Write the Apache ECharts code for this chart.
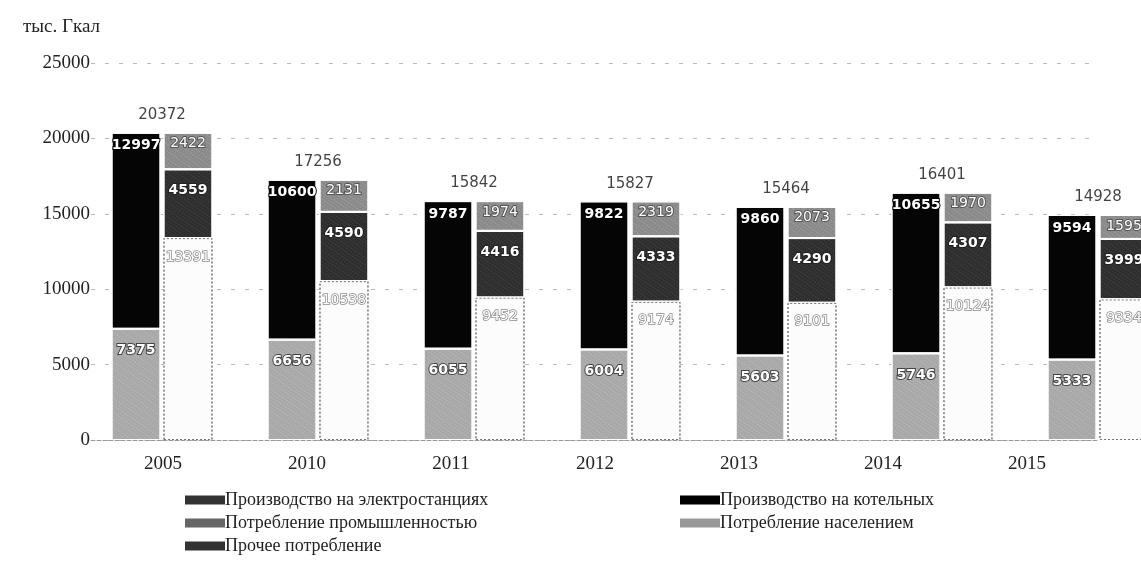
<!DOCTYPE html>
<html>
<head>
<meta charset="utf-8">
<script src="https://cdn.jsdelivr.net/npm/echarts@6/dist/echarts.min.js"></script>
<style>
  html, body { margin: 0; padding: 0; background: #fff; }
  #main { width: 1141px; height: 561px; }
</style>
</head>
<body>
<div id="main"></div>
<script>
// --- data ---
const years = ['2005', '2010', '2011', '2012', '2013', '2014', '2015'];
const powerStations = [7375, 6656, 6055, 6004, 5603, 5746, 5333];
const boilers = [12997, 10600, 9787, 9822, 9860, 10655, 9594];
const population = [13391, 10538, 9452, 9174, 9101, 10124, 9334];
const industry = [4559, 4590, 4416, 4333, 4290, 4307, 3999];
const otherUse = [2422, 2131, 1974, 2319, 2073, 1970, 1595];
const totals = [20372, 17256, 15842, 15827, 15464, 16401, 14928];
const yTicks = [0, 5000, 10000, 15000, 20000, 25000];

const SERIF = '"Liberation Serif", "DejaVu Serif", serif';
const SANS = '"DejaVu Sans", sans-serif';

const chart = echarts.init(document.getElementById('main'));

// speckle-like texture for the scanned fills
const speckle = (c) => ({
    symbol: 'rect',
    symbolSize: 0.5,
    dashArrayX: [[1, 2], [2, 1]],
    dashArrayY: [1, 2],
    rotation: 0.6,
    color: c,
    backgroundColor: null
});

const segLabel = (dist, stroke) => ({
    show: true,
    position: 'insideTop',
    distance: dist,
    color: '#fff',
    fontFamily: SANS,
    fontWeight: 'bold',
    fontSize: 14,
    textBorderColor: stroke,
    textBorderWidth: 2
});

const bar = (name, data, stack, label, itemStyle) => ({
    name: name,
    type: 'bar',
    stack: stack,
    data: data,
    barWidth: 49,
    barGap: '6%',
    xAxisIndex: 0,
    yAxisIndex: 0,
    itemStyle: itemStyle,
    label: label
});

const legendText = { fontFamily: SERIF, fontSize: 18, lineHeight: 20, color: '#222', padding: [0, 0, 0, -5] };

const option = {
    animation: false,
    aria: { enabled: true, decal: { show: true } },
    title: {
        text: 'тыс. Гкал',
        left: 18,
        top: 13,
        textStyle: { fontFamily: SERIF, fontSize: 19, fontWeight: 'normal', color: '#222' }
    },
    grid: [
        { left: 84, width: 1092, top: 63, bottom: 121, outerBoundsMode: 'none' },
        { left: 91, width: 1008, top: 63, bottom: 121, outerBoundsMode: 'none' }
    ],
    xAxis: [
        { gridIndex: 0, type: 'category', data: years, show: false },
        {
            gridIndex: 1, type: 'category', data: years,
            axisLine: { show: true, lineStyle: { color: '#999', type: 'dashed' } },
            axisTick: { show: false },
            axisLabel: { fontFamily: SERIF, fontSize: 19, color: '#222', margin: 15 }
        }
    ],
    yAxis: [
        { gridIndex: 0, type: 'value', min: 0, max: 25000, interval: 5000, show: false },
        {
            gridIndex: 1, type: 'value', min: yTicks[0], max: yTicks[yTicks.length - 1], interval: 5000,
            axisLine: { show: false },
            axisTick: { show: false },
            axisLabel: {
                fontFamily: SERIF, fontSize: 19, color: '#222', margin: 1,
                formatter: (v) => String(v)
            },
            splitLine: { lineStyle: { color: '#bbb', type: [4, 10], width: 1 } }
        }
    ],
    legend: [
        {
            orient: 'vertical', left: 185, top: 490, padding: 0, height: 70,
            itemWidth: 40, itemHeight: 9, itemGap: 3,
            icon: 'rect',
            textStyle: legendText,
            data: [
                { name: 'Производство на электростанциях', itemStyle: { color: '#333', borderWidth: 0, decal: 'none' } },
                { name: 'Потребление промышленностью', itemStyle: { color: '#666', borderWidth: 0, decal: 'none' } },
                { name: 'Прочее потребление', itemStyle: { color: '#333', borderWidth: 0, decal: 'none' } }
            ]
        },
        {
            orient: 'vertical', left: 680, top: 490, padding: 0, height: 70,
            itemWidth: 40, itemHeight: 9, itemGap: 3,
            icon: 'rect',
            textStyle: legendText,
            data: [
                { name: 'Производство на котельных', itemStyle: { color: '#000', borderWidth: 0, decal: 'none' } },
                { name: 'Потребление населением', itemStyle: { color: '#999', borderWidth: 0, decal: 'none' } }
            ]
        }
    ],
    series: [
        bar('Производство на электростанциях', powerStations, 'prod', segLabel(15, '#444'),
            { color: '#a8a8a8', borderColor: '#fff', borderWidth: 1, decal: speckle('rgba(255,255,255,0.75)') }),
        bar('Производство на котельных', boilers, 'prod', segLabel(6, '#000'),
            { color: '#050505', borderColor: '#fff', borderWidth: 1, decal: { symbol: 'none' } }),
        bar('Потребление населением', population, 'cons',
            Object.assign(segLabel(12, '#888'), { textBorderWidth: 1.5, fontWeight: 'normal' }),
            { color: '#fcfcfc', borderColor: '#777', borderWidth: 1, borderType: [2, 2], decal: { symbol: 'none' } }),
        bar('Потребление промышленностью', industry, 'cons', segLabel(14, '#222'),
            { color: '#2e2e2e', borderColor: '#fff', borderWidth: 1, decal: speckle('rgba(255,255,255,0.35)') }),
        bar('Прочее потребление', otherUse, 'cons',
            Object.assign(segLabel(4, '#555'), { fontWeight: 'normal' }),
            { color: '#8a8a8a', borderColor: '#fff', borderWidth: 1, decal: speckle('rgba(255,255,255,0.7)') }),
        {
            name: 'total',
            type: 'scatter',
            xAxisIndex: 0,
            yAxisIndex: 0,
            data: totals,
            symbolSize: 0,
            silent: true,
            label: {
                show: true,
                position: 'top',
                distance: 10,
                fontFamily: SANS,
                fontSize: 15,
                color: '#111',
                formatter: (p) => p.value
            }
        }
    ]
};

chart.setOption(option);
</script>
</body>
</html>
